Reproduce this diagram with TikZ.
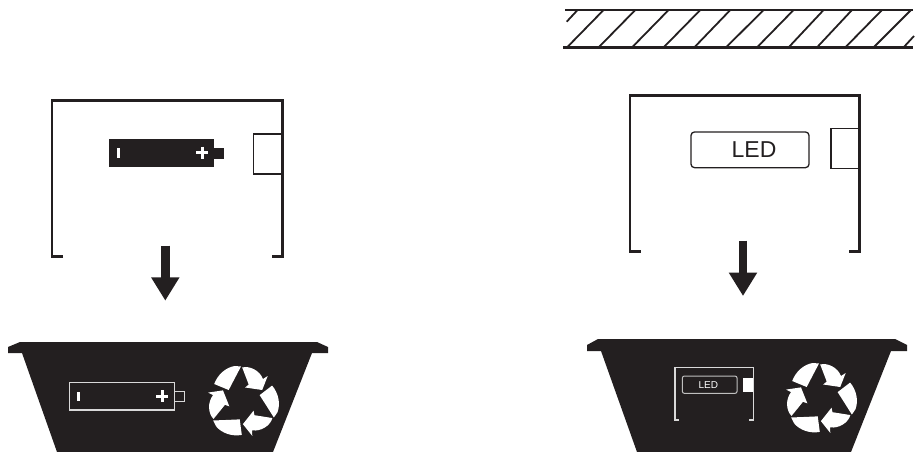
\documentclass[tikz,border=0pt]{standalone}
\usepackage{fontspec}
\setmainfont{Liberation Sans}
\usepackage{xcolor}
\definecolor{binInk}{HTML}{231F20}
\usepackage{tikz}
\usetikzlibrary{arrows.meta, positioning}

% one recycling mark, three turned arrows
\newcommand{\recyclemark}[2]{%
  \begin{scope}[shift={(#1,#2)}]
    \foreach \ang in {0,120,240}{
      \fill[white, rotate=\ang] (-28.5,-17.5) .. controls (-25,-27) and (-17,-34) .. (-8,-35.5)
          -- (-1.7,-35) -- (-7.5,-24) -- (-14,-11.5) -- cycle;
      \fill[white, rotate=\ang] (-0.5,-34) .. controls (7,-36) and (17,-31) .. (20.3,-22.5)
          -- (25,-25.5) -- (19.5,-11.5) -- (2.5,-14) -- (6,-17) -- cycle;
    }
  \end{scope}}

\begin{document}
\begin{tikzpicture}[
    x=1pt, y=-1pt,
    bin/.style={fill=binInk, draw=none},
    casing/.style={draw=binInk, line width=2.6pt, line cap=butt},
    smallcasing/.style={draw=white!85!black, line width=1.1pt},
    switchbox/.style={rectangle, draw=binInk, line width=1.1pt, minimum width=28.6pt,
                  minimum height=40pt, inner sep=0pt},
    cell/.style={rectangle, fill=binInk, minimum width=105pt, minimum height=28pt,
                  inner sep=0pt, outer sep=0pt},
    cellcap/.style={rectangle, fill=binInk, minimum width=9.7pt, minimum height=10.6pt,
                  inner sep=0pt, outer sep=0pt},
    cellout/.style={rectangle, draw=white!85!black, line width=1.1pt, minimum width=105pt,
                  minimum height=27.3pt, inner sep=0pt, outer sep=0pt},
    capout/.style={rectangle, draw=white!85!black, line width=1pt, minimum width=9.7pt,
                  minimum height=10pt, inner sep=0pt, outer sep=0pt},
    sign/.style={white, line width=3pt},
    ledbox/.style={rectangle, rounded corners=3.5pt, draw=binInk, line width=1.3pt,
                  minimum width=118pt, minimum height=35.7pt, inner sep=0pt},
    smallled/.style={rectangle, rounded corners=2pt, draw=white!75!black, line width=1pt,
                  minimum width=54.7pt, minimum height=17.3pt, inner sep=0pt},
    drop/.style={-{Triangle[length=23.4pt,width=26.8pt]}, line width=8.8pt, color=binInk},
    wall/.style={draw=binInk, line width=2.4pt},
    hatching/.style={draw=binInk, line width=1.8pt}
]
\useasboundingbox (0,0) rectangle (924,452);

% left side: battery
\draw[casing] (63,256.7) -- (52,256.7) -- (52,100.7) -- (282.3,100.7) -- (282.3,256.7) -- (271.7,256.7);
\node[switchbox] (switchA) at (268,154) {};
\node[cell] (battery) at (161.8,153.3) {};
\node[cellcap, right=0pt of battery] (batteryCap) {};
\coordinate (minusA) at (118.3,148.3);
\coordinate (minusB) at (118.3,158.3);
\draw[sign] (minusA) -- (minusB);
\draw[sign] (196.3,152.7) -- (208.3,152.7);
\draw[sign] (202.3,146.7) -- (202.3,158.7);

\coordinate (dropTopA) at (165.3,245.7);
\coordinate (dropTipA) at (165.3,300.7);
\draw[drop] (dropTopA) -- (dropTipA);

\fill[bin] (8,353) -- (8,347) -- (20,342) -- (317,342) -- (328,347) -- (328,353) -- (312,353)
    -- (273,452) -- (57,452) -- (22,353) -- cycle;
\node[cellout] (binBattery) at (121.8,396.3) {};
\node[capout, right=0pt of binBattery] (binBatteryCap) {};
\draw[sign] (78.5,392) -- (78.5,401);
\draw[sign] (156.3,396) -- (168.3,396);
\draw[sign] (162.3,390) -- (162.3,402);
\recyclemark{242.7}{401.5}

% right side: wall and LED
\draw[wall] (565,10.3) -- (912.7,10.3);
\draw[wall] (563,47.7) -- (912.7,47.7);
\draw[hatching] (566.7,21.7) -- (577.3,10.3);
\foreach \lowx/\topx in {566.7/603.3,598.3/635,631.7/668.3,663.3/700,694/730,725.7/763.3,756.7/793.3,788.3/823.3,816.7/851.7,845/881.7,873.3/910.7}{
  \draw[hatching] (\lowx,47.7) -- (\topx,10.3);
}
\draw[hatching] (903.3,47.7) -- (914,36);

\draw[casing] (640.7,251.3) -- (630,251.3) -- (630,95.7) -- (859.3,95.7) -- (859.3,251.3) -- (849.3,251.3);
\node[switchbox] (switchB) at (845.3,148.7) {};
\node[ledbox] (led) at (750,149.8) {};
\node[font=\fontsize{23}{23}\selectfont, text=binInk, inner sep=0pt] (ledText) at (754,150) {LED};

\coordinate (dropTopB) at (743,240.7);
\coordinate (dropTipB) at (743,296);
\draw[drop] (dropTopB) -- (dropTipB);

\fill[bin] (587,351) -- (587,345) -- (598,339) -- (895,339) -- (907,345) -- (907,351) -- (891,351)
    -- (851,452) -- (637,452) -- (601,351) -- cycle;
\draw[smallcasing] (679,420) -- (675,420) -- (675,367.3) -- (753.3,367.3) -- (753.3,420) -- (749.3,420);
\node[rectangle, fill=white, minimum width=10.3pt, minimum height=14.6pt, inner sep=0pt]
    (binSwitch) at (748.2,385) {};
\node[smallled] (binLed) at (709.7,384.7) {};
\node[font=\fontsize{10}{10}\selectfont, text=white, inner sep=0pt] (binLedText) at (708.3,385) {LED};
\recyclemark{820.7}{398.5}
\end{tikzpicture}
\end{document}
